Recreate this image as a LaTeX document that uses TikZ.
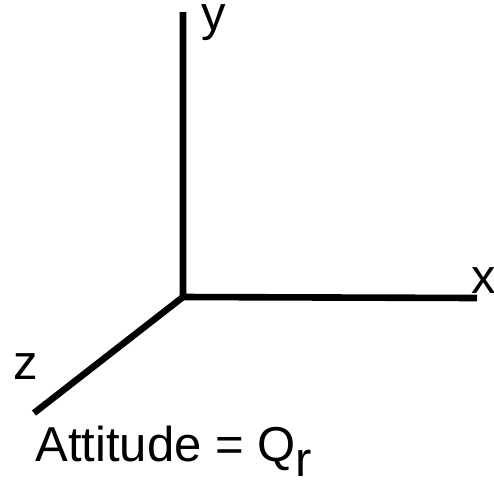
\documentclass[tikz,border=0pt]{standalone}
\usepackage{fontspec}
\setmainfont{Liberation Sans}
\usetikzlibrary{positioning}

\begin{document}
\begin{tikzpicture}[x=0.5pt, y=-0.5pt, axis/.style={line width=3.3pt}, every node/.style={inner sep=0pt, anchor=base west, font=\fontsize{24.5}{29}\selectfont}]
\useasboundingbox (0,0) rectangle (494,479);
\coordinate (o) at (183,297);
\coordinate (ytip) at (183,12);
\coordinate (xtip) at (477,298);
\coordinate (ztip) at (34,413);

\draw[axis] (ytip) -- (o) -- (xtip);
\draw[axis] (o) -- (ztip);

\node (ylab) at (201,30) {y};
\node (xlab) at (471,293) {x};
\node (zlab) at (13,379) {z};
\node (att) at (35,461) {Attitude = Q\raisebox{-7.5pt}{r}};
\end{tikzpicture}
\end{document}
